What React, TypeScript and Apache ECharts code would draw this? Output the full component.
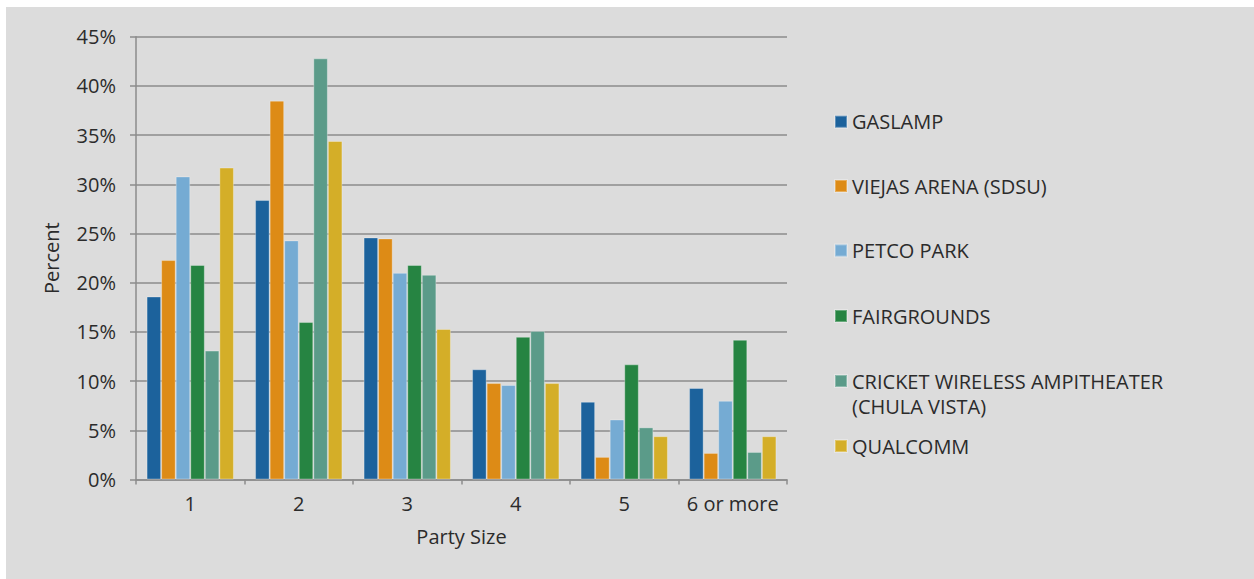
import React, { useEffect, useRef } from "react";
import * as echarts from "echarts";

const categories = ["1", "2", "3", "4", "5", "6 or more"];
const seriesNames = [
  "GASLAMP",
  "VIEJAS ARENA (SDSU)",
  "PETCO PARK",
  "FAIRGROUNDS",
  "CRICKET WIRELESS AMPITHEATER (CHULA VISTA)",
  "QUALCOMM",
];
const gaslamp = [18.6, 28.4, 24.6, 11.2, 7.9, 9.3];
const viejas = [22.3, 38.5, 24.5, 9.8, 2.3, 2.7];
const petco = [30.8, 24.3, 21.0, 9.6, 6.1, 8.0];
const fairgrounds = [21.8, 16.0, 21.8, 14.5, 11.7, 14.2];
const cricket = [13.1, 42.8, 20.8, 15.1, 5.3, 2.8];
const qualcomm = [31.7, 34.4, 15.3, 9.8, 4.4, 4.4];
const yTicks = [0, 5, 10, 15, 20, 25, 30, 35, 40, 45];

const colors = ["#1c629c", "#dd8b16", "#75abd3", "#268442", "#5b9b89", "#d4ae28"];
const legendCenters = [121.7, 186, 250.5, 316, 381, 446];

const FONT = "'Open Sans', 'Noto Sans', sans-serif";
const TEXT = "#2b2b2b";
const LINE = "#8c8c8c";

export default function App() {
  const ref = useRef<HTMLDivElement>(null);
  useEffect(() => {
    if (!ref.current) return;
    const chart = echarts.init(ref.current, null, { renderer: "svg" });
    const allData = [gaslamp, viejas, petco, fairgrounds, cricket, qualcomm];
    const legends = seriesNames.map((name, i) => {
      const multi = name.startsWith("CRICKET");
      return {
        show: true,
        data: [name],
        orient: "vertical" as const,
        left: 834,
        top: multi ? legendCenters[i] - 37.5 : legendCenters[i] - 12.5,
        padding: 0,
        itemWidth: 12,
        itemHeight: 12,
        icon: "rect",
        selectedMode: false,
        formatter: multi
          ? () => "\nCRICKET WIRELESS AMPITHEATER\n(CHULA VISTA)"
          : (n: string) => n,
        textStyle: {
          color: TEXT,
          fontFamily: FONT,
          fontSize: 20,
          lineHeight: 25,
        },
      };
    });
    chart.setOption({
      animation: false,
      color: colors,
      textStyle: { fontFamily: FONT },
      grid: { left: 136, right: 467, top: 36.7, bottom: 99.5, containLabel: false },
      legend: legends,
      xAxis: {
        type: "category",
        data: categories,
        name: "Party Size",
        nameLocation: "middle",
        nameGap: 47,
        nameTextStyle: { color: TEXT, fontSize: 20, fontFamily: FONT },
        axisLine: { show: true, lineStyle: { color: LINE, width: 1.5 } },
        axisTick: { show: true, interval: 0, length: 5, lineStyle: { color: LINE, width: 1.5 } },
        axisLabel: { color: TEXT, fontSize: 20, fontFamily: FONT, margin: 14, interval: 0 },
        splitLine: { show: false },
      },
      yAxis: {
        type: "value",
        min: yTicks[0],
        max: yTicks[yTicks.length - 1],
        interval: 5,
        name: "Percent",
        nameLocation: "middle",
        nameGap: 75,
        nameTextStyle: { color: TEXT, fontSize: 20, fontFamily: FONT },
        axisLine: { show: true, lineStyle: { color: LINE, width: 1.5 } },
        axisTick: { show: true, length: 6, lineStyle: { color: LINE, width: 1.5 } },
        axisLabel: {
          color: TEXT,
          fontSize: 20,
          fontFamily: FONT,
          margin: 20,
          formatter: "{value}%",
        },
        splitLine: { show: true, lineStyle: { color: LINE, width: 1.5 } },
      },
      series: seriesNames.map((name, i) => ({
        type: "bar",
        name,
        data: allData[i],
        barGap: "0%",
        barCategoryGap: "19.5%",
        itemStyle: {
          color: colors[i],
          borderColor: "rgba(255,255,255,0.3)",
          borderWidth: 1,
        },
      })),
    });
    return () => chart.dispose();
  }, []);
  return (
    <div style={{ position: "absolute", left: 0, top: 0, width: 1254, height: 579, background: "#ffffff" }}>
      <div style={{ position: "absolute", left: 6, top: 7, width: 1248, height: 572, background: "#dcdcdc" }} />
      <div ref={ref} style={{ position: "absolute", left: 0, top: 0, width: 1254, height: 579 }} />
    </div>
  );
}
